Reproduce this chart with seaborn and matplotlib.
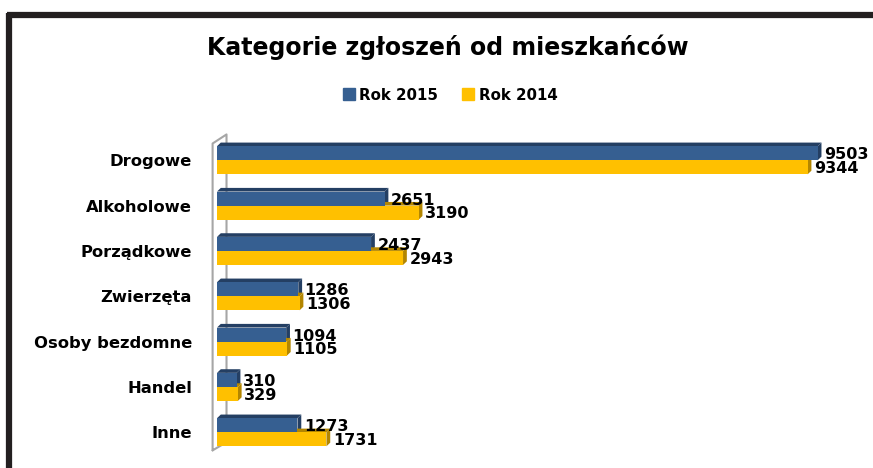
import pandas as pd
import seaborn as sns
import matplotlib.pyplot as plt
from matplotlib.patches import Polygon
from matplotlib.lines import Line2D

# Data
categories = ["Drogowe", "Alkoholowe", "Porządkowe", "Zwierzęta",
              "Osoby bezdomne", "Handel", "Inne"]
rok_2015 = [9503, 2651, 2437, 1286, 1094, 310, 1273]
rok_2014 = [9344, 3190, 2943, 1306, 1105, 329, 1731]
series = ["Rok 2015", "Rok 2014"]
colors = ["#365f91", "#ffc000"]
side_colors = ["#243f63", "#b38600"]

df = pd.DataFrame({
    "Kategoria": categories * 2,
    "Liczba": rok_2015 + rok_2014,
    "Rok": [series[0]] * len(categories) + [series[1]] * len(categories),
})

sns.set_style("white")
plt.rcParams["font.family"] = ["DejaVu Sans"]
plt.rcParams["font.weight"] = "bold"
plt.rcParams["text.color"] = "black"
plt.rcParams["ytick.color"] = "black"

fig = plt.figure(figsize=(8.73, 4.68), dpi=100)
ax = fig.add_axes([0.2486, 0.028, 0.724, 0.678])

sns.barplot(data=df, y="Kategoria", x="Liczba", hue="Rok", palette=colors,
            width=0.62, orient="h", ax=ax, legend=False, saturation=1,
            linewidth=0, zorder=2)

ax.set_xlim(0, 10000)
ax.set_ylim(6.5, -0.5)

# pseudo-3D faces on every bar (behind the bars so the upper bar hides the lower top face)
d, dd = 60, 0.08
for cont, sc in zip(ax.containers, side_colors):
    for p in cont.patches:
        x0, y0 = p.get_x(), p.get_y()
        x1 = x0 + p.get_width()
        y1 = y0 + p.get_height()
        ax.add_patch(Polygon([(x1, y0), (x1 + d, y0 - dd), (x1 + d, y1 - dd), (x1, y1)],
                             closed=True, color=sc, lw=0, zorder=1.5))
        ax.add_patch(Polygon([(x0, y0), (x0 + d, y0 - dd), (x1 + d, y0 - dd), (x1, y0)],
                             closed=True, color=sc, lw=0, zorder=1.5))

# value labels
for i, cont in enumerate(ax.containers):
    for p, v in zip(cont.patches, [rok_2015, rok_2014][i]):
        yc = p.get_y() + p.get_height() / 2 + (0.035 if i == 0 else 0.03)
        ax.text(p.get_x() + p.get_width() + 100, yc, f"{v}", ha="left", va="center",
                fontsize=11.5, fontweight="bold", color="black", clip_on=False, zorder=4)

# the side wall of the 3D chart
wall = dict(color="#a6a6a6", lw=1.5, clip_on=False, zorder=1)
ax.plot([-70, -70, 150, 150, -70], [6.4, -0.37, -0.57, 6.22, 6.4], **wall)

for s in ax.spines.values():
    s.set_visible(False)
ax.set_xticks([])
ax.set_xlabel("")
ax.set_ylabel("")
ax.tick_params(axis="y", length=0, pad=18, labelsize=11.8, labelcolor="black")
for lab in ax.get_yticklabels():
    lab.set_fontweight("bold")

fig.text(0.513, 0.9, "Kategorie zgłoszeń od mieszkańców", ha="center", va="center",
         fontsize=17, fontweight="bold", color="black")

handles = [Line2D([], [], marker="s", linestyle="", markersize=8,
                  markerfacecolor=c, markeredgecolor=c) for c in colors]
fig.legend(handles, series, loc="center", bbox_to_anchor=(0.515, 0.797), ncol=2,
           frameon=False, prop={"weight": "bold", "size": 10.8},
           handletextpad=0.2, columnspacing=1.5, handlelength=1.0)

# thick frame visible at top and left
fig.add_artist(Line2D([0.0103, 0.0103], [0, 0.972], transform=fig.transFigure,
                      color="#231f20", lw=4.5, solid_capstyle="butt"))
fig.add_artist(Line2D([0.008, 1], [0.968, 0.968], transform=fig.transFigure,
                      color="#231f20", lw=4.5, solid_capstyle="butt"))

fig.savefig("out.png", dpi=100)
